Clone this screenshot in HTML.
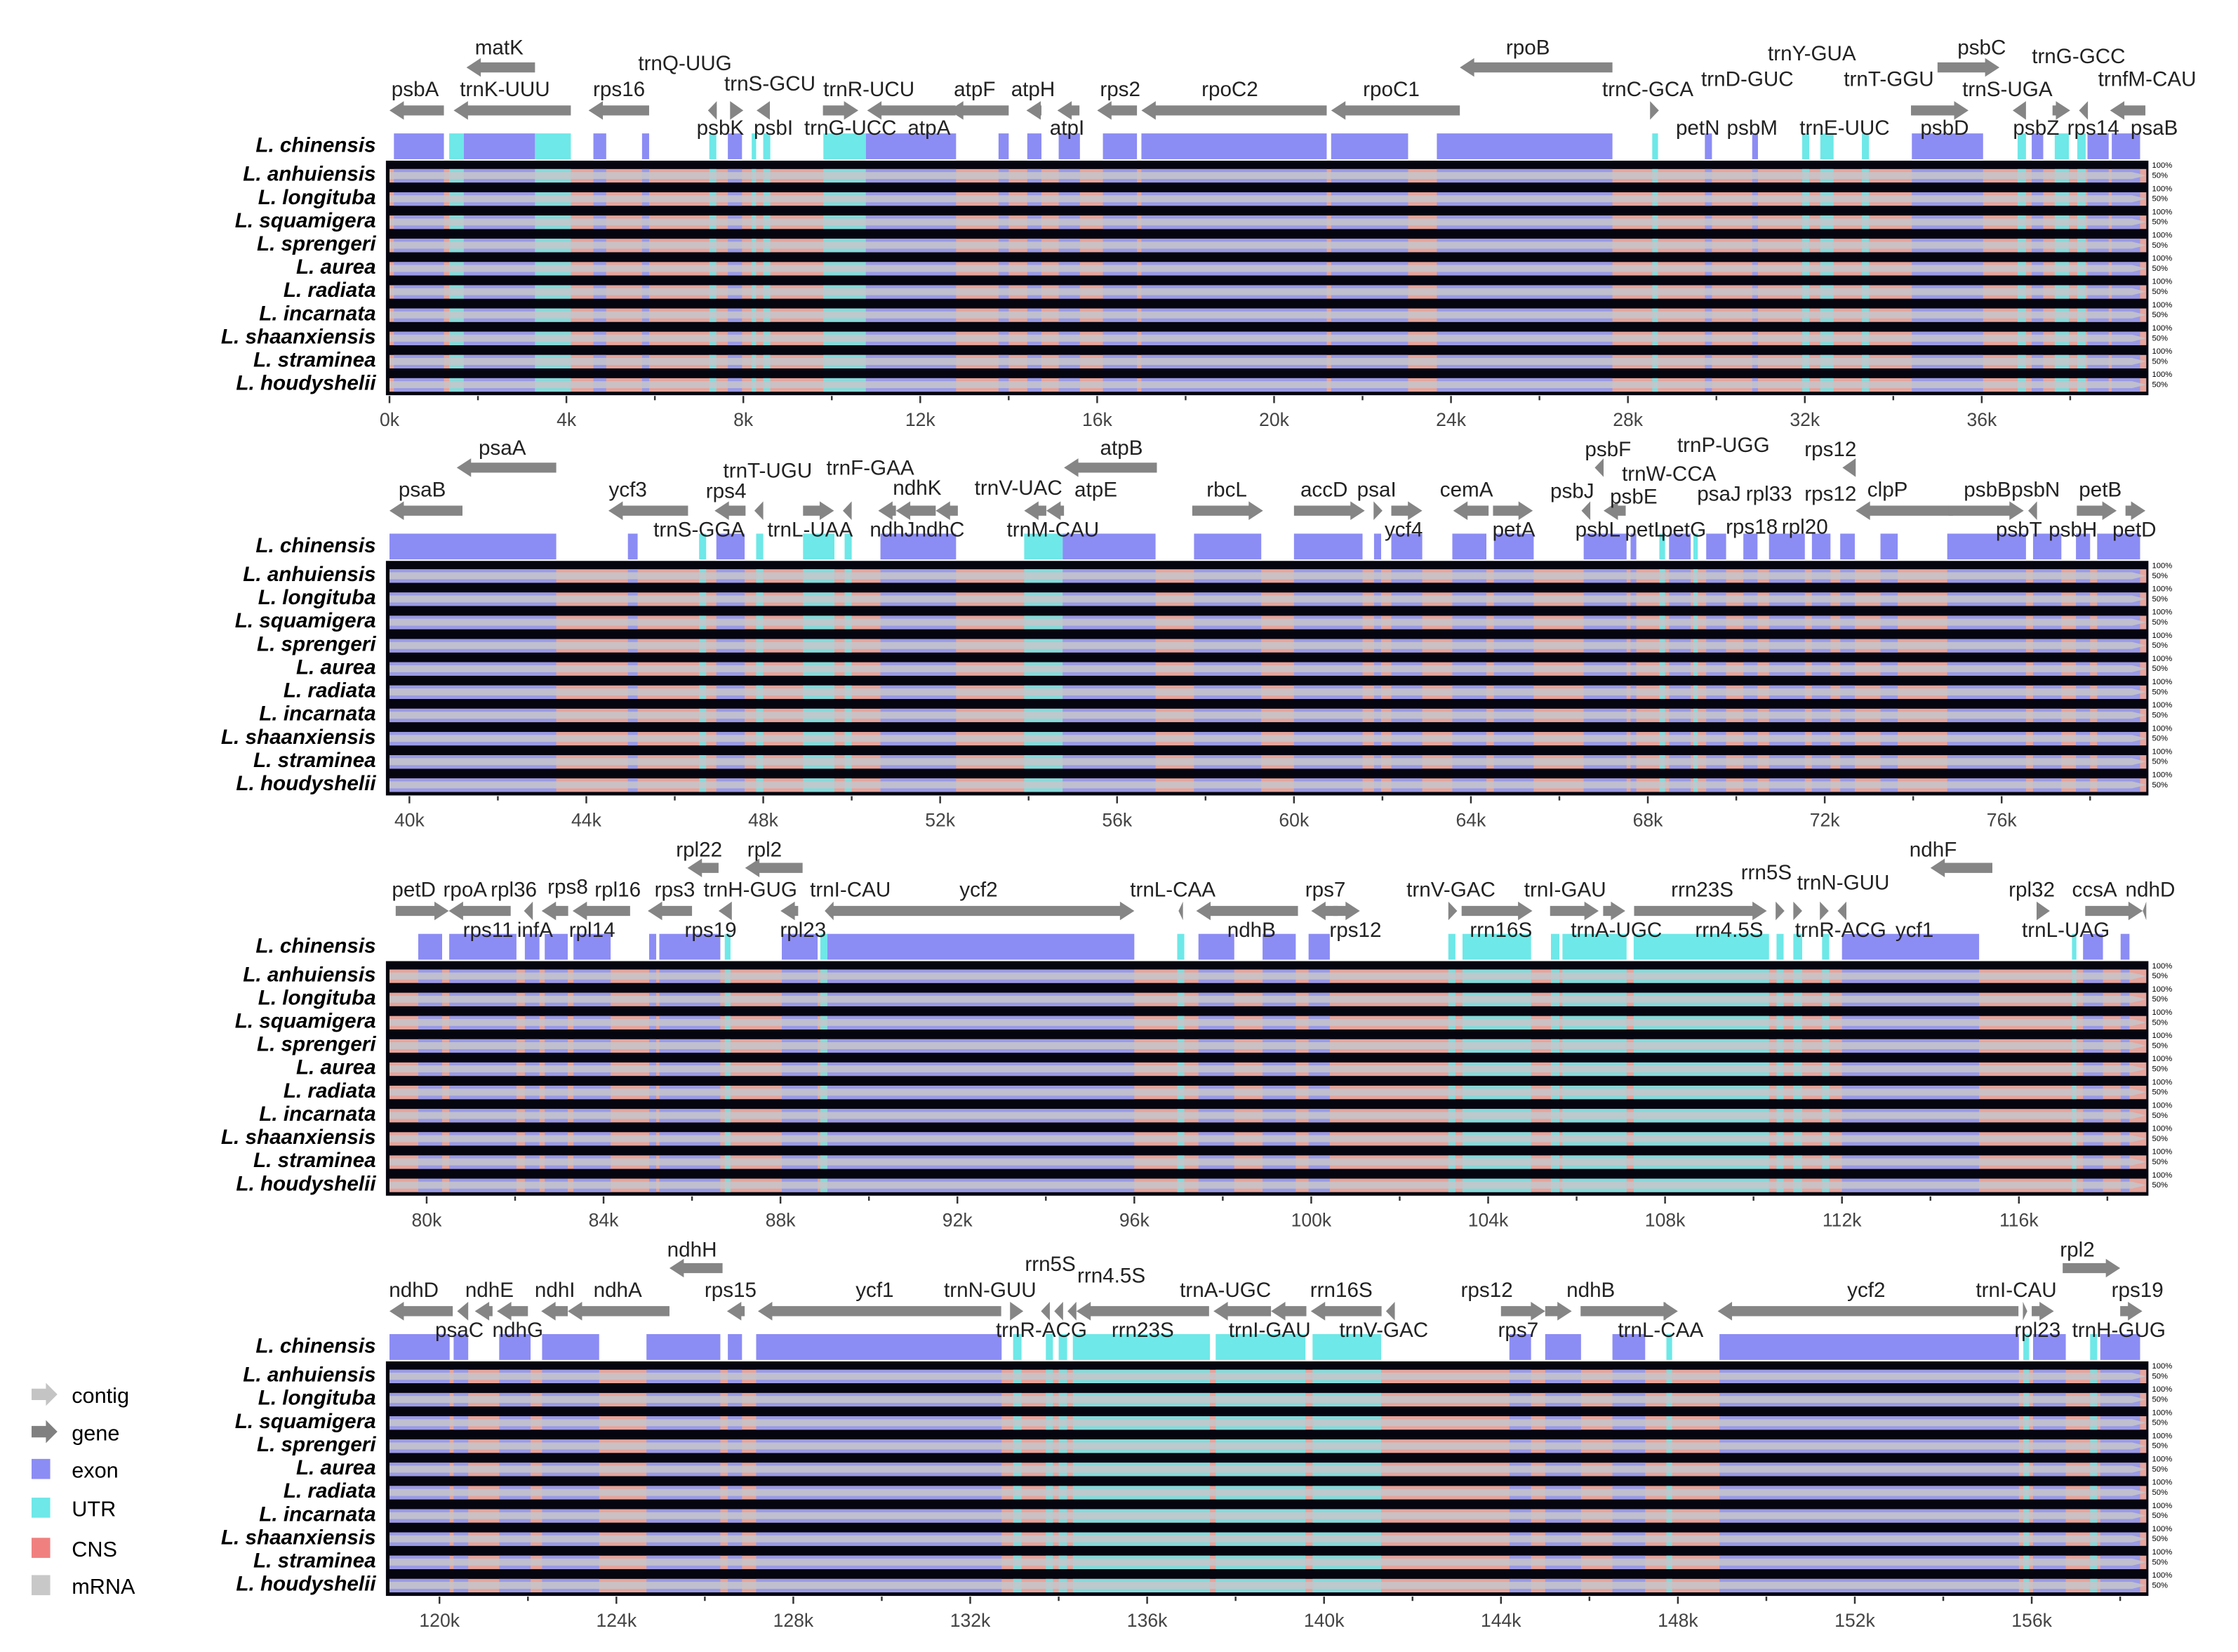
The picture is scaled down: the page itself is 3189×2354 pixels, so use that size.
<!DOCTYPE html>
<html><head><meta charset="utf-8"><style>
html,body{margin:0;padding:0;background:#fff}
svg{display:block}
text{font-family:"Liberation Sans",sans-serif}
</style></head><body>
<svg id="chart" width="3189" height="2354" viewBox="0 0 1560 1151.6" preserveAspectRatio="none" xmlns="http://www.w3.org/2000/svg">
<g id="legend">
 <g><polygon points="22,968 32,968 32,964 40,972 32,980 32,976 22,976" fill="#c4c4c4"/><text x="50" y="978" font-size="15">contig</text></g>
 <g><polygon points="22,994 32,994 32,990 40,998 32,1006 32,1002 22,1002" fill="#808080"/><text x="50" y="1004" font-size="15">gene</text></g>
 <g><rect x="22" y="1017" width="13" height="14" fill="#8c8cf5"/><text x="50" y="1030" font-size="15">exon</text></g>
 <g><rect x="22" y="1044" width="13" height="14" fill="#6ee8e8"/><text x="50" y="1057" font-size="15">UTR</text></g>
 <g><rect x="22" y="1072" width="13" height="14" fill="#f08080"/><text x="50" y="1085" font-size="15">CNS</text></g>
 <g><rect x="22" y="1098" width="13" height="14" fill="#c8c8c8"/><text x="50" y="1111" font-size="15">mRNA</text></g>
</g>
</svg>
<script>
const species = ["L. anhuiensis","L. longituba","L. squamigera","L. sprengeri","L. aurea","L. radiata","L. incarnata","L. shaanxiensis","L. straminea","L. houdyshelii"];
const panelStarts = [0, 39.55, 79.16, 118.87];
const panelSpan = 39.72;
const tickStep = 4;
// regions: [startKb, endKb, type] e=exon u=UTR
const regions1 = [[0.1,1.23,"e"],[1.35,1.68,"u"],[1.68,3.29,"e"],[3.29,4.1,"u"],[4.61,4.9,"e"],[5.71,5.87,"e"],[7.23,7.39,"u"],[7.65,7.97,"e"],[8.19,8.29,"u"],[8.45,8.61,"u"],[9.81,10.77,"u"],[10.77,12.81,"e"],[13.77,14.0,"e"],[14.42,14.74,"e"],[15.13,15.61,"e"],[16.13,16.9,"e"],[17.0,21.19,"e"],[21.29,23.03,"e"],[23.68,27.65,"e"],[28.55,28.68,"u"],[29.74,29.9,"e"],[30.81,30.94,"e"],[31.94,32.1,"u"],[32.35,32.65,"u"],[33.29,33.45,"u"],[34.42,36.03,"e"],[36.81,37.0,"u"],[37.13,37.39,"e"],[37.65,37.97,"u"],[38.16,38.35,"u"],[38.39,38.87,"e"],[38.94,39.58,"e"]];
const regions2 = [[39.55,43.32,"e"],[44.94,45.16,"e"],[46.55,46.71,"u"],[46.94,47.58,"e"],[47.84,48.0,"u"],[48.9,49.61,"u"],[49.84,50.0,"u"],[50.65,52.36,"e"],[53.9,54.77,"u"],[54.77,56.87,"e"],[57.74,59.26,"e"],[60.0,61.55,"e"],[61.81,61.97,"e"],[62.2,62.9,"e"],[63.58,64.35,"e"],[64.52,65.42,"e"],[66.55,67.52,"e"],[67.61,67.74,"e"],[68.26,68.39,"u"],[68.48,68.97,"e"],[69.03,69.13,"u"],[69.32,69.77,"e"],[70.16,70.48,"e"],[70.74,71.55,"e"],[71.71,72.13,"e"],[72.35,72.68,"e"],[73.26,73.65,"e"],[74.77,76.55,"e"],[76.71,77.35,"e"],[77.68,78.0,"e"],[78.16,79.13,"e"]];
const regions3 = [[79.81,80.35,"e"],[80.51,82.03,"e"],[82.22,82.55,"e"],[82.67,83.19,"e"],[83.32,84.16,"e"],[85.03,85.19,"e"],[85.26,86.64,"e"],[86.74,86.87,"u"],[88.03,88.84,"e"],[88.9,89.06,"u"],[89.06,96.0,"e"],[96.97,97.13,"u"],[97.45,98.26,"e"],[98.9,99.65,"e"],[99.94,100.42,"e"],[103.1,103.26,"u"],[103.42,104.97,"u"],[105.42,105.61,"u"],[105.68,107.13,"u"],[107.29,110.35,"u"],[110.52,110.68,"u"],[110.9,111.1,"u"],[111.55,111.71,"u"],[112.0,115.1,"e"],[117.2,117.3,"u"],[117.45,117.9,"e"],[118.3,118.5,"e"]];
const regions4 = [[118.87,120.23,"e"],[120.32,120.65,"e"],[121.35,122.06,"e"],[122.32,123.61,"e"],[124.68,126.35,"e"],[126.52,126.84,"e"],[127.16,132.71,"e"],[132.97,133.16,"u"],[133.71,133.87,"u"],[134.0,134.19,"u"],[134.32,137.42,"u"],[137.55,139.58,"u"],[139.74,141.29,"u"],[144.19,144.68,"e"],[145.0,145.81,"e"],[146.52,147.26,"e"],[147.74,147.87,"u"],[148.94,155.71,"e"],[155.81,155.94,"u"],[156.03,156.77,"e"],[157.32,157.48,"u"],[157.55,158.45,"e"]];
// genes: [startKb, endKb, direction, raised]
const genes1 = [[0.0,1.23,"L",0],[1.45,4.1,"L",0],[1.74,3.29,"L",1],[4.5,5.87,"L",0],[7.2,7.4,"L",0],[7.7,8.0,"R",0],[8.3,8.6,"L",0],[9.8,10.6,"R",0],[10.8,12.8,"L",0],[12.65,14.0,"L",0],[14.4,14.74,"L",0],[15.1,15.6,"L",0],[16.0,16.9,"L",0],[17.0,21.19,"L",0],[21.29,24.2,"L",0],[24.2,27.65,"L",1],[28.5,28.7,"R",0],[34.4,35.7,"R",0],[35.0,36.4,"R",1],[36.7,37.0,"L",0],[37.6,38.0,"R",0],[38.2,38.4,"L",0],[38.9,39.7,"L",0]];
const genes2 = [[39.55,41.2,"L",0],[41.07,43.32,"L",1],[44.5,46.3,"L",0],[46.9,47.6,"L",0],[47.8,48.0,"L",0],[48.9,49.6,"R",0],[49.8,50.0,"L",0],[50.6,51.0,"L",0],[51.0,51.9,"L",0],[51.9,52.4,"L",0],[53.9,54.4,"L",0],[54.4,54.8,"L",0],[54.8,56.9,"L",1],[57.7,59.3,"R",0],[60.0,61.6,"R",0],[61.8,62.0,"R",0],[62.2,62.9,"R",0],[63.6,64.4,"L",0],[64.5,65.4,"R",0],[66.5,66.7,"L",0],[66.8,67.0,"L",1],[67.0,67.5,"L",0],[72.4,72.7,"L",1],[72.7,74.9,"L",0],[74.8,76.5,"R",0],[76.6,76.8,"L",0],[77.7,78.6,"R",0],[78.8,79.25,"R",0]];
const genes3 = [[79.3,80.5,"R",0],[80.5,81.9,"L",0],[82.2,82.4,"L",0],[82.6,83.2,"L",0],[83.3,84.6,"L",0],[85.0,86.0,"L",0],[85.9,86.6,"L",1],[86.6,86.9,"L",0],[87.2,88.5,"L",1],[88.0,88.4,"L",0],[89.0,89.2,"L",0],[89.1,96.0,"R",0],[97.0,97.1,"L",0],[97.4,99.7,"L",0],[100.0,100.6,"L",0],[100.5,101.1,"R",0],[103.1,103.3,"R",0],[103.4,105.0,"R",0],[105.4,106.5,"R",0],[106.6,107.1,"R",0],[107.3,110.3,"R",0],[110.5,110.7,"R",0],[110.9,111.1,"R",0],[111.5,111.7,"R",0],[111.9,112.1,"L",0],[114.0,115.4,"L",1],[116.4,116.7,"R",0],[117.5,118.8,"R",0],[118.8,119.2,"L",0]];
const genes4 = [[118.87,120.3,"L",0],[120.4,120.65,"L",0],[120.8,121.2,"L",0],[121.3,122.0,"L",0],[122.3,122.9,"L",0],[122.9,125.2,"L",0],[125.2,126.4,"L",1],[126.5,126.9,"L",0],[127.2,132.7,"L",0],[132.9,133.2,"R",0],[133.6,133.8,"L",0],[133.9,134.1,"L",0],[134.2,134.4,"L",0],[134.4,137.4,"L",0],[137.5,138.8,"L",0],[138.8,139.6,"L",0],[139.7,141.3,"L",0],[141.4,141.6,"L",0],[144.0,145.0,"R",0],[145.0,145.6,"R",0],[145.8,148.0,"R",0],[147.7,147.9,"R",0],[148.9,155.7,"L",0],[155.8,155.9,"R",0],[156.0,156.5,"R",0],[156.7,158.0,"R",1],[158.0,158.5,"R",0]];
// labels: [name, kb, yOffset]
const labels1 = [["psbA",0.58,62],["trnK-UUU",2.61,62],["matK",2.48,33],["rps16",5.19,62],["trnQ-UUG",6.68,44],["trnS-GCU",8.6,58],["psbK",7.48,89],["psbI",8.68,89],["trnR-UCU",10.84,62],["trnG-UCC",10.42,89],["atpA",12.2,89],["atpF",13.23,62],["atpH",14.55,62],["atpI",15.32,89],["rps2",16.52,62],["rpoC2",19.0,62],["rpoC1",22.65,62],["rpoB",25.74,33],["trnC-GCA",28.45,62],["petN",29.58,89],["psbM",30.81,89],["trnD-GUC",30.7,55],["trnY-GUA",32.16,37],["trnT-GGU",33.9,55],["trnE-UUC",32.9,89],["psbD",35.16,89],["psbC",36.0,33],["trnS-UGA",36.58,62],["trnG-GCC",38.19,39],["trnfM-CAU",39.74,55],["psbZ",37.23,89],["rps14",38.52,89],["psaB",39.9,89]];
const labels2 = [["psaB",40.29,62],["psaA",42.1,33],["ycf3",44.94,62],["rps4",47.16,63],["trnT-UGU",48.1,49],["trnF-GAA",50.42,47],["trnS-GGA",46.55,90],["trnL-UAA",49.06,90],["ndhK",51.48,61],["ndhJndhC",51.48,90],["trnV-UAC",53.77,61],["atpE",55.52,62],["atpB",56.1,33],["trnM-CAU",54.55,90],["rbcL",58.48,62],["accD",60.68,62],["psaI",61.87,62],["ycf4",62.48,90],["cemA",63.9,62],["petA",64.97,90],["psbJ",66.29,63],["psbF",67.1,34],["trnW-CCA",68.48,51],["psbE",67.68,67],["trnP-UGG",69.71,31],["rps12",72.13,34],["psbL",66.87,90],["petL",67.94,90],["petG",68.81,90],["rps18",70.35,88],["rpl20",71.55,88],["psaJ",69.61,65],["rpl33",70.74,65],["rps12",72.13,65],["clpP",73.42,62],["psbB",75.68,62],["psbN",76.77,62],["petB",78.23,62],["psbT",76.39,90],["psbH",77.61,90],["petD",79.0,90]];
const labels3 = [["petD",79.71,62],["rpoA",80.87,62],["rpl36",81.97,62],["rps8",83.19,60],["rpl16",84.32,62],["rps3",85.61,62],["rpl22",86.16,34],["rpl2",87.64,34],["trnH-GUG",87.32,62],["trnI-CAU",89.58,62],["rps11",81.39,90],["infA",82.45,90],["rpl14",83.74,90],["rps19",86.42,90],["rpl23",88.51,90],["ycf2",92.48,62],["trnL-CAA",96.87,62],["ndhB",98.65,90],["rps7",100.32,62],["rps12",101.0,90],["trnV-GAC",103.16,62],["rrn16S",104.29,90],["trnI-GAU",105.74,62],["trnA-UGC",106.9,90],["rrn23S",108.84,62],["rrn5S",110.29,50],["rrn4.5S",109.45,90],["trnN-GUU",112.03,57],["trnR-ACG",111.97,90],["ycf1",113.64,90],["ndhF",114.06,34],["rpl32",116.29,62],["trnL-UAG",117.06,90],["ccsA",117.71,62],["ndhD",118.97,62]];
const labels4 = [["ndhD",119.42,62],["ndhE",121.13,62],["ndhI",122.61,62],["ndhA",124.03,62],["ndhH",125.71,34],["rps15",126.58,62],["ycf1",129.84,62],["trnN-GUU",132.45,62],["rrn5S",133.81,44],["rrn4.5S",135.19,52],["trnA-UGC",137.77,62],["rrn16S",140.39,62],["rps12",143.68,62],["ndhB",146.03,62],["ycf2",152.26,62],["trnI-CAU",155.65,62],["rpl2",157.03,34],["rps19",158.39,62],["psaC",120.45,90],["ndhG",121.77,90],["trnR-ACG",133.61,90],["rrn23S",135.9,90],["trnI-GAU",138.77,90],["trnV-GAC",141.35,90],["rps7",144.39,90],["trnL-CAA",147.61,90],["rpl23",156.13,90],["trnH-GUG",157.97,90]];

const NS="http://www.w3.org/2000/svg";
const svg=document.getElementById('chart');
const regionsAll=[regions1,regions2,regions3,regions4];
const genesAll=[genes1,genes2,genes3,genes4];
const labelsAll=[labels1,labels2,labels3,labels4];
const PL=271.5, PPX=30.83, PR=PL+panelSpan*PPX;
function mk(tag,attrs,parent){const e=document.createElementNS(NS,tag);for(const k in attrs)e.setAttribute(k,attrs[k]);(parent||svg).appendChild(e);return e;}
function xs(p,kb){return PL+(kb-panelStarts[p])*PPX;}
const rowColor={e:"#9a9ae6",u:"#86dada",p:"#e6a49c"};
const trackColor={e:"#8c8cf5",u:"#6ee8e8"};
for(let p=0;p<4;p++){
  const dy=p*279;
  const g=mk('g',{});
  
  
  const top=112+dy, bot=274+dy, rh=(bot-top)/species.length;
  const ch=mk('text',{x:262,y:106+dy,'text-anchor':'end','font-size':14.5,'font-weight':'bold','font-style':'italic'},g);
  ch.textContent="L. chinensis";
  
  
  regionsAll[p].forEach(r=>{
    const x0=Math.max(PL,xs(p,r[0])), x1=Math.min(PR,xs(p,r[1]));
    const b=mk('rect',{x:x0,y:93+dy,width:Math.max(1,x1-x0),height:18,fill:trackColor[r[2]]},g);
    
    
  });
  const fr=mk('rect',{x:PL-2.5,y:top,width:PR-PL+4,height:bot-top+1.5,fill:"#050510"},g);
  
  
  species.forEach((sp,i)=>{
    const ry=top+i*rh;
    const rg=mk('g',{},g);
    
    
    const cy=ry+rh*0.36, ch2=rh*0.58;
    mk('rect',{x:PL,y:cy,width:PR-PL,height:ch2,fill:rowColor.p},rg);
    regionsAll[p].forEach(r=>{
      const x0=Math.max(PL,xs(p,r[0])), x1=Math.min(PR,xs(p,r[1]));
      const c=mk('rect',{x:x0,y:cy,width:Math.max(1,x1-x0),height:ch2,fill:rowColor[r[2]]},rg);
      
      
    });
    const sy=cy+ch2*0.22, sh=ch2*0.52;
    mk('polygon',{points:`${PL},${sy} ${PR-10},${sy} ${PR},${sy+sh/2} ${PR-10},${sy+sh} ${PL},${sy+sh}`,fill:"#c6c6ca",opacity:0.85},rg);
    const t=mk('text',{x:262,y:ry+rh*0.62+4,'text-anchor':'end','font-size':14.5,'font-weight':'bold','font-style':'italic'},rg);
    t.textContent=sp;
    
    
    const a=mk('text',{x:PR+4,y:ry+5,'font-size':5.5},rg); a.textContent="100%";
    const b=mk('text',{x:PR+4,y:ry+12,'font-size':5.5},rg); b.textContent="50%";
  });
  const ax=mk('g',{},g);
  
  
  const s=panelStarts[p];
  for(let k=Math.ceil(s/2)*2;k<=s+panelSpan;k+=2){
    const x=xs(p,k);
    mk('line',{x1:x,x2:x,y1:bot+2,y2:bot+(k%tickStep===0?7:5),stroke:"#333","stroke-width":1.2},ax);
    if(k%tickStep===0){
      const tl=mk('text',{x:x,y:bot+23,'text-anchor':'middle','font-size':13,fill:"#444",'font-family':'"Liberation Mono",monospace'},ax);
      tl.textContent=k+"k";
      
      
    }
  }
  genesAll[p].forEach(gn=>{
    let x0=Math.max(PL,xs(p,gn[0])), x1=Math.min(PR,xs(p,gn[1]));
    const y=(gn[3]?47:77)+dy, hw=3.5, hh=6.5, head=Math.min(10,(x1-x0));
    let pts;
    if(gn[2]==="R") pts=`${x0},${y-hw} ${x1-head},${y-hw} ${x1-head},${y-hh} ${x1},${y} ${x1-head},${y+hh} ${x1-head},${y+hw} ${x0},${y+hw}`;
    else pts=`${x1},${y-hw} ${x0+head},${y-hw} ${x0+head},${y-hh} ${x0},${y} ${x0+head},${y+hh} ${x0+head},${y+hw} ${x1},${y+hw}`;
    const ar=mk('polygon',{points:pts,fill:"#858585"},g);
    
    
  });
  labelsAll[p].forEach(l=>{
    const t=mk('text',{x:xs(p,l[1]),y:l[2]+dy+5,'text-anchor':'middle','font-size':14.5,fill:"#222"},g);
    t.textContent=l[0];
    
    
  });
}
</script>
</body></html>
